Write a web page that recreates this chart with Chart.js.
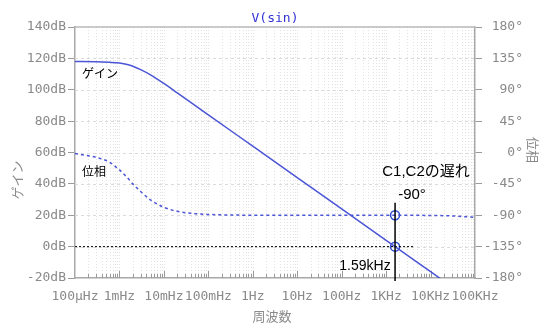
<!DOCTYPE html>
<html>
<head>
<meta charset="utf-8">
<script src="https://cdn.jsdelivr.net/npm/chart.js@4.4.0/dist/chart.umd.min.js"></script>
<style>
  html, body { margin: 0; padding: 0; background: #fff; }
  #bode { display: block; }
</style>
</head>
<body>
<canvas id="bode" width="550" height="336"></canvas>
<script>
// frequency points (Hz) of the traces
const freqs = [1e-4, 3e-4, 6e-4, 1e-3, 1.5e-3, 2e-3, 3e-3, 5e-3, 1e-2, 2e-2, 5e-2, 1e-1,
               1, 10, 100, 1e3, 1.59e3, 1e4, 3e4, 1e5];
// gain in dB
const gainDb = [118, 117.9, 117.5, 117, 116.1, 115, 112.8, 109.5, 104, 98, 90, 84,
                64, 44, 24, 4, 0, -16, -25.5, -36];
// phase in degrees
const phaseDeg = [-1.5, -7, -14, -25, -36, -45, -56, -68, -78.5, -84.3, -87.7, -88.9,
                  -89.9, -90, -90, -90, -90, -90.3, -91, -93];

const decades = [1e-4, 1e-3, 1e-2, 1e-1, 1, 10, 100, 1e3, 1e4, 1e5];
const freqLabels = ['100µHz', '1mHz', '10mHz', '100mHz', '1Hz', '10Hz', '100Hz', '1KHz', '10KHz', '100KHz'];

// crossover marker
const markFreq = 1.59e3;
const markGain = 0;
const markPhase = -90;
const zeroLineEnd = 4.3e3;

const blue = '#4b55d6';
const gray = '#8a8a8a';
const mono = '"DejaVu Sans Mono", monospace';
const jp = '"Liberation Sans", "Noto Sans CJK JP", sans-serif';

const toPoints = (ys) => freqs.map((f, i) => ({ x: f, y: ys[i] }));

const gridPlugin = {
  id: 'gridPlugin',
  beforeDatasetsDraw(chart) {
    const { ctx, chartArea: a, scales } = chart;
    const x = scales.x, y = scales.y;
    ctx.save();
    ctx.lineWidth = 1;
    // vertical log grid
    ctx.strokeStyle = '#e2e2e2';
    ctx.setLineDash([1, 2]);
    for (let d = -4; d < 5; d++) {
      for (let m = 1; m < 10; m++) {
        const v = m * Math.pow(10, d);
        if (v <= 1e-4) continue;
        const px = Math.round(x.getPixelForValue(v)) + 0.5;
        ctx.beginPath();
        ctx.moveTo(px, a.top);
        ctx.lineTo(px, a.bottom);
        ctx.stroke();
      }
    }
    // horizontal grid at the dB ticks
    ctx.setLineDash([3, 3]);
    ctx.strokeStyle = '#dadada';
    for (let v = 0; v <= 120; v += 20) {
      const py = Math.round(y.getPixelForValue(v)) + 0.5;
      ctx.beginPath();
      ctx.moveTo(a.left, py);
      ctx.lineTo(a.right, py);
      ctx.stroke();
    }
    ctx.setLineDash([]);
    // top frame line
    ctx.strokeStyle = '#b8b8b8';
    ctx.lineWidth = 1.5;
    ctx.beginPath();
    ctx.moveTo(a.left, a.top);
    ctx.lineTo(a.right, a.top);
    ctx.stroke();
    // inner ticks on the frequency axis
    ctx.strokeStyle = '#9a9a9a';
    ctx.lineWidth = 1;
    for (let d = -4; d < 5; d++) {
      for (let m = 1; m < 10; m++) {
        const v = m * Math.pow(10, d);
        if (v <= 1e-4) continue;
        const px = Math.round(x.getPixelForValue(v)) + 0.5;
        ctx.beginPath();
        ctx.moveTo(px, a.bottom);
        ctx.lineTo(px, a.bottom - (m === 1 ? 7 : 4));
        ctx.stroke();
      }
    }
    ctx.restore();
  },
  afterDatasetsDraw(chart) {
    const { ctx, chartArea: a, scales } = chart;
    const mx = scales.x.getPixelForValue(markFreq);
    ctx.save();
    // vertical marker line
    ctx.strokeStyle = '#000';
    ctx.lineWidth = 1.5;
    ctx.beginPath();
    ctx.moveTo(mx, scales.y1.getPixelForValue(-72));
    ctx.lineTo(mx, a.bottom + 3);
    ctx.stroke();

    ctx.fillStyle = '#000';
    ctx.textBaseline = 'middle';
    ctx.font = '15px ' + jp;
    ctx.textAlign = 'center';
    ctx.fillText('C1,C2の遅れ', 426, 172);
    ctx.fillText('-90°', 412, 195);
    ctx.font = '14px ' + jp;
    ctx.fillText('1.59kHz', 365, 266);

    ctx.font = '12px "Noto Sans CJK JP", sans-serif';
    ctx.textAlign = 'left';
    ctx.fillText('ゲイン', 82, 73);
    ctx.fillText('位相', 82, 171);

    // title
    ctx.font = '13px ' + mono;
    ctx.textAlign = 'center';
    ctx.fillStyle = '#3434d4';
    ctx.fillText('V(sin)', 275, 19);

    // axis titles
    ctx.fillStyle = gray;
    ctx.font = '13px "Noto Sans CJK JP", sans-serif';
    ctx.fillText('周波数', 272, 316);
    ctx.save();
    ctx.translate(17, 180);
    ctx.rotate(-Math.PI / 2);
    ctx.fillText('ゲイン', 0, 0);
    ctx.restore();
    ctx.save();
    ctx.translate(533, 150);
    ctx.rotate(Math.PI / 2);
    ctx.fillText('位相', 0, 0);
    ctx.restore();
    ctx.restore();
  }
};

new Chart(document.getElementById('bode'), {
  type: 'line',
  data: {
    datasets: [
      {
        data: toPoints(gainDb),
        yAxisID: 'y',
        borderColor: blue,
        borderWidth: 1.5,
        pointRadius: 0,
        cubicInterpolationMode: 'monotone'
      },
      {
        data: toPoints(phaseDeg),
        yAxisID: 'y1',
        borderColor: blue,
        borderWidth: 1.5,
        borderDash: [3, 3],
        pointRadius: 0,
        cubicInterpolationMode: 'monotone'
      },
      {
        data: [{ x: 1e-4, y: 0 }, { x: zeroLineEnd, y: 0 }],
        yAxisID: 'y',
        borderColor: '#000',
        borderWidth: 1,
        borderDash: [2, 2],
        pointRadius: 0
      },
      {
        data: [{ x: markFreq, y: markGain }],
        yAxisID: 'y',
        showLine: false,
        pointRadius: 4.5,
        pointBorderWidth: 1.5,
        pointBorderColor: '#2a4bd0',
        pointBackgroundColor: 'rgba(0,0,0,0)'
      },
      {
        data: [{ x: markFreq, y: markPhase }],
        yAxisID: 'y1',
        showLine: false,
        pointRadius: 4.5,
        pointBorderWidth: 1.5,
        pointBorderColor: '#2a4bd0',
        pointBackgroundColor: 'rgba(0,0,0,0)'
      }
    ]
  },
  options: {
    responsive: false,
    animation: false,
    devicePixelRatio: 1,
    layout: { padding: { top: 27, right: 27, left: 0, bottom: 0 } },
    plugins: { legend: { display: false }, tooltip: { enabled: false } },
    scales: {
      x: {
        type: 'logarithmic',
        min: 1e-4,
        max: 1e5,
        afterBuildTicks: (s) => { s.ticks = decades.map(v => ({ value: v })); },
        afterFit: (s) => { s.height = 58; },
        ticks: {
          autoSkip: false,
          maxRotation: 0,
          padding: 5,
          color: gray,
          font: { family: mono, size: 13 },
          callback: (v, i) => freqLabels[i]
        },
        grid: { display: false, drawTicks: true, tickLength: 6 },
        border: { color: '#a8a8a8', width: 1.5 }
      },
      y: {
        position: 'left',
        min: -20,
        max: 140,
        afterFit: (s) => { s.width = 75; },
        ticks: {
          stepSize: 20,
          padding: 2,
          color: gray,
          font: { family: mono, size: 13 },
          callback: (v) => v + 'dB'
        },
        grid: { drawOnChartArea: false, tickLength: 7, color: '#9a9a9a' },
        border: { color: '#a8a8a8', width: 1.5 }
      },
      y1: {
        position: 'right',
        min: -180,
        max: 180,
        afterFit: (s) => { s.width = 48; },
        ticks: {
          stepSize: 45,
          padding: 2,
          crossAlign: 'far',
          color: gray,
          font: { family: mono, size: 13 },
          callback: (v) => v + '°'
        },
        grid: { drawOnChartArea: false, tickLength: 7, color: '#9a9a9a' },
        border: { color: '#a8a8a8', width: 1.5 }
      }
    }
  },
  plugins: [gridPlugin]
});
</script>
</body>
</html>
